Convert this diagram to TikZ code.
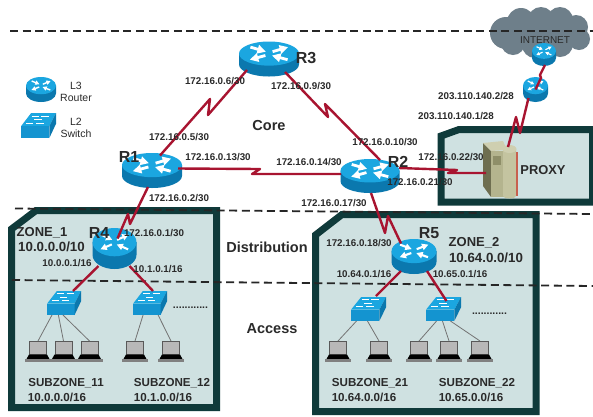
\documentclass[tikz,border=0pt]{standalone}
\usepackage{fontspec}
\setmainfont{Liberation Sans}
\usetikzlibrary{arrows.meta,calc}
\definecolor{ink}{HTML}{2A2A2A}
\definecolor{zonefill}{HTML}{CFE1E1}
\definecolor{zoneedge}{HTML}{0F3A3A}
\definecolor{link}{HTML}{A81430}
\definecolor{rtop}{HTML}{1BA6E0}
\definecolor{rbody}{HTML}{0B78AE}
\definecolor{sfront}{HTML}{1494D0}
\definecolor{cloudc}{HTML}{6E7F8A}
\definecolor{srvdark}{HTML}{6E6E50}
\definecolor{srvface}{HTML}{B4B48E}
\definecolor{srvwin}{HTML}{8E8E68}
\definecolor{srvtop}{HTML}{CFCFB0}
\definecolor{srvside}{HTML}{C4C4A0}
\definecolor{srvred}{HTML}{C8604E}
\tikzset{
  zone/.style={draw=zoneedge,fill=zonefill,line width=7pt,miter limit=10},
  layer/.style={dashed,dash pattern=on 8pt off 4.6pt,line width=1.8pt,black!85},
  serial/.style={draw=link,line width=2.4pt,line join=round},
  drop/.style={draw=black!55,line width=.8pt},
  lab/.style={font=\fontsize{#1}{#1}\selectfont\bfseries,text=ink,inner sep=0pt,text height=0.72*#1 pt,text depth=0pt},
  plain/.style={font=\fontsize{#1}{#1}\selectfont,text=ink,inner sep=0pt,text height=0.72*#1 pt,text depth=0pt},
  device/.style={inner sep=0pt,outer sep=0pt,shape=rectangle}
}
% name, x, y, half width, half height
\newcommand\routericon[5]{%
  \node[device,minimum width=2*#4 pt,minimum height=2*#5 pt] (#1) at (#2,#3) {};
  \begin{scope}[shift={(#2,#3)},x=#4pt,y=-#5pt]
    \fill[rbody] (-1,-.31) -- (-1,.31) arc[start angle=180,end angle=0,x radius=1,y radius=.69] -- (1,-.31) -- cycle;
    \fill[rtop] (0,-.31) ellipse[x radius=1,y radius=.69];
    \pgfmathsetmacro{\lwid}{#4*.095}
    \begin{scope}[white,line width=\lwid pt]
      \draw[-{Triangle[length=0pt 3 0,width=0pt 3 0]}] (-.62,-.68) -- (-.1,-.42);
      \draw[-{Triangle[length=0pt 3 0,width=0pt 3 0]}] (.62,.04) -- (.1,-.2);
      \draw[-{Triangle[length=0pt 3 0,width=0pt 3 0]}] (.12,-.42) -- (.64,-.68);
      \draw[-{Triangle[length=0pt 3 0,width=0pt 3 0]}] (-.12,-.2) -- (-.64,.04);
    \end{scope}
  \end{scope}}
% name, x, y, width, height (centre)
\newcommand\switchicon[5]{%
  \node[device,minimum width=#4 pt,minimum height=#5 pt] (#1) at (#2,#3) {};
  \begin{scope}[shift={(#2-#4/2,#3-#5/2)},x=#4pt,y=-#5pt]
    \fill[rtop] (0,.53) -- (.29,0) -- (1,0) -- (.81,.53) -- cycle;
    \fill[sfront] (0,.53) rectangle (.81,1);
    \fill[rbody] (.81,.53) -- (1,0) -- (1,.43) -- (.81,1) -- cycle;
    \begin{scope}[white,line width=.8pt]
      \draw (.3,.12) -- (.5,.12); \draw (.58,.12) -- (.8,.12);
      \draw (.38,.26) -- (.6,.26);
      \draw (.14,.4) -- (.34,.4); \draw (.44,.4) -- (.66,.4);
    \end{scope}
  \end{scope}}
% name, x, y
\newcommand\laptopicon[3]{%
  \node[device,minimum width=26pt,minimum height=21pt] (#1) at (#2,#3) {};
  \begin{scope}[shift={(#2,#3)}]
    \fill[black!65] (-9,-10.5) rectangle (9,3);
    \fill[black!28] (-8,-9.5) rectangle (8,2);
    \fill[black] (-9,3) -- (9,3) -- (11.5,7.5) -- (-11.5,7.5) -- cycle;
    \fill[black!50] (-13,7.5) rectangle (13,10.5);
  \end{scope}}
\begin{document}
\begin{tikzpicture}[x=1pt,y=-1pt]
\clip (0,0) rectangle (593,416);
\fill[white] (0,0) rectangle (593,416);
% zones
\draw[zone] (11.5,229) -- (36,210.5) -- (216.5,210.5) -- (216.5,407.5) -- (11.5,407.5) -- cycle;
\draw[zone] (315.5,235) -- (342,214.5) -- (536,214.5) -- (536,411.5) -- (315.5,411.5) -- cycle;
\draw[zone] (441,136) -- (459,129.5) -- (592.5,129.5) -- (592.5,202) -- (441,202) -- cycle;
% cloud
\foreach \cx/\cy/\cr in {506/33/16,521/22/14,541/20/13,560/20/13,576/27/12,579/39/11,560/44/13,535/45/13,513/43/12}
  \fill[cloudc] (\cx,\cy) circle[radius=\cr];
\fill[cloudc] (505,22) rectangle (575,45);
% layer lines
\coordinate (la) at (10,31); \coordinate (lb) at (593,31);
\coordinate (lc) at (15,208.5); \coordinate (ld) at (593,214);
\coordinate (le) at (12,280); \coordinate (lf) at (593,286);
\draw[layer] (la) -- (lb);
\draw[layer] (lc) -- (ld);
\draw[layer] (le) -- (lf);
% proxy server
\node[device,minimum width=36pt,minimum height=57pt] (proxy) at (501,170) {};
\fill[srvdark] (483,143) -- (491,151) -- (491,197) -- (483,186) -- cycle;
\fill[srvface] (491,151) rectangle (504,197);
\fill[srvwin] (493,156) rectangle (501,165);
\fill[srvtop] (483,143) -- (503,141) -- (507,150) -- (491,151) -- cycle;
\fill[srvside] (503,149) -- (516,149) -- (516,196) arc[start angle=0,end angle=180,x radius=6.5,y radius=2.5] -- cycle;
\fill[srvtop] (509.5,149) ellipse[x radius=7,y radius=4];
\fill[srvred] (515.5,152) rectangle (517.5,196);
% devices
\routericon{rleg}{41}{89.5}{15}{12.5}
\switchicon{sleg}{38.5}{125.5}{35}{25}
\routericon{r3}{269}{59}{30}{17.5}
\routericon{r1}{152}{170.5}{30}{17.5}
\routericon{r2}{370}{176}{29.5}{17}
\routericon{r4}{114.5}{248.5}{22}{20.5}
\routericon{r5}{414}{256.5}{22.5}{17.5}
\routericon{rnet}{544}{54.5}{12}{11.5}
\routericon{rgw}{535.5}{89.5}{12.5}{12.5}
\switchicon{sw1}{64}{303}{34}{24}
\switchicon{sw2}{150}{303}{34}{24}
\switchicon{sw3}{368.5}{309}{35}{24}
\switchicon{sw4}{443.5}{309}{35}{24}
\laptopicon{l1}{38}{351.5}
\laptopicon{l2}{63.5}{351.5}
\laptopicon{l3}{89.5}{351.5}
\laptopicon{l4}{135}{351.5}
\laptopicon{l5}{171}{351.5}
\laptopicon{l6}{338}{351.5}
\laptopicon{l7}{379}{351.5}
\laptopicon{l8}{419}{351.5}
\laptopicon{l9}{449}{351.5}
\laptopicon{l10}{480}{351.5}
% zigzag corners
\coordinate (a1) at (208,115); \coordinate (a2) at (210,99);
\coordinate (b1) at (260,169); \coordinate (b2) at (252,174);
\coordinate (c1) at (328,117); \coordinate (c2) at (325,104);
\coordinate (d1) at (130,224); \coordinate (d2) at (128,214);
\coordinate (e1) at (385,233); \coordinate (e2) at (388,216);
\coordinate (f1) at (457,170); \coordinate (f2) at (448,173);
\coordinate (g1) at (520,133); \coordinate (g2) at (516,117);
\coordinate (h1) at (541,78); \coordinate (h2) at (540,75);
% serial links
\draw[serial] ([shift={(-22,11)}]r3.center) -- (a1) -- (a2) -- ([shift={(8,-15)}]r1.center);
\draw[serial] ([shift={(26,-2)}]r1.center) -- (b1) -- (b2) -- ([shift={(-29,-2)}]r2.center);
\draw[serial] ([shift={(16,13)}]r3.center) -- (c1) -- (c2) -- ([shift={(10,-16)}]r2.center);
\draw[serial] ([shift={(-4,16.5)}]r1.center) -- (d1) -- (d2) -- ([shift={(3,-10)}]r4.center);
\draw[serial] ([shift={(1,17)}]r2.center) -- (e1) -- (e2) -- ([shift={(-13,-13)}]r5.center);
\draw[serial] ([shift={(29,-8)}]r2.center) -- (f1) -- (f2) -- ([shift={(-15,3)}]proxy.center);
\draw[serial] ([shift={(7,-23)}]proxy.center) -- (g2) -- (g1) -- ([shift={(-7,8.5)}]rgw.center);
\draw[serial] ([shift={(0,0)}]rgw.center) -- (h1) -- (h2) -- ([shift={(1,10.5)}]rnet.center);
% zone links
\draw[link,line width=2.4pt] ([shift={(-16,17.5)}]r4.center) -- ([shift={(9,-12)}]sw1.center);
\draw[link,line width=2.4pt] ([shift={(15,17.5)}]r4.center) -- ([shift={(3,-12)}]sw2.center);
\draw[link,line width=2.4pt] ([shift={(-13,14.5)}]r5.center) -- ([shift={(7.5,-13)}]sw3.center);
\draw[link,line width=2.4pt] ([shift={(13,14.5)}]r5.center) -- ([shift={(3,-8)}]sw4.center);
% drops
\draw[drop] (sw1.225) -- (l1.north);
\draw[drop] (sw1.245) -- (l2.north);
\draw[drop] (sw1.265) -- (l3.north);
\draw[drop] (sw2.240) -- (l4.north);
\draw[drop] (sw2.304) -- (l5.north);
\draw[drop] (sw3.225) -- (l6.north);
\draw[drop] (sw3.265) -- (l7.north);
\draw[drop] (sw4.240) -- (l8.north);
\draw[drop] (sw4.265) -- (l9.north);
\draw[drop] (sw4.300) -- (l10.north);
% labels
\node[plain=10.5] (t1) at (76,86) {L3};
\node[plain=10.5] (t2) at (76,98) {Router};
\node[plain=10.5] (t3) at (76,122) {L2};
\node[plain=10.5] (t4) at (76,134) {Switch};
\node[lab=14.5] (t5) at (269,125) {Core};
\node[lab=14.5] (t6) at (267,247) {Distribution};
\node[lab=14.5] (t7) at (272,328) {Access};
\node[lab=16] (t8) at (129,157) {R1};
\node[lab=16] (t9) at (398,162) {R2};
\node[lab=16] (t10) at (306,58) {R3};
\node[lab=16] (t11) at (99,233) {R4};
\node[lab=16] (t12) at (429,233) {R5};
\node[lab=9.8] (t13) at (215,81) {172.16.0.6/30};
\node[lab=9.8] (t14) at (301,86) {172.16.0.9/30};
\node[lab=9.8] (t15) at (179,137) {172.16.0.5/30};
\node[lab=9.8] (t16) at (218,157) {172.16.0.13/30};
\node[lab=9.8] (t17) at (309,162) {172.16.0.14/30};
\node[lab=9.8] (t18) at (179,198) {172.16.0.2/30};
\node[lab=9.8] (t19) at (385,141.5) {172.16.0.10/30};
\node[lab=9.8] (t20) at (451,157) {172.16.0.22/30};
\node[lab=9.8] (t21) at (420,182) {172.16.0.21/30};
\node[lab=9.8] (t22) at (334,203) {172.16.0.17/30};
\node[lab=9.8] (t23) at (476,96) {203.110.140.2/28};
\node[lab=9.8] (t24) at (456,116) {203.110.140.1/28};
\node[plain=10] (t25) at (545,40) {INTERNET};
\node[lab=12.9] (t26) at (543,170) {PROXY};
\node[lab=9.8] (t27) at (154,233) {172.16.0.1/30};
\node[lab=13] (t28) at (42,232) {ZONE\_1};
\node[lab=13.3] (t29) at (51.5,247) {10.0.0.0/10};
\node[lab=9.8] (t30) at (67,263) {10.0.0.1/16};
\node[lab=9.8] (t31) at (158,269) {10.1.0.1/16};
\node[lab=10.5,anchor=base] (t32) at (190.5,308) {............};
\node[lab=11.6] (t33) at (66,382) {SUBZONE\_11};
\node[lab=11.6] (t34) at (57,397) {10.0.0.0/16};
\node[lab=11.6] (t35) at (172,382) {SUBZONE\_12};
\node[lab=11.6] (t36) at (163,397) {10.1.0.0/16};
\node[lab=9.8] (t37) at (359,243) {172.16.0.18/30};
\node[lab=13] (t38) at (474,242) {ZONE\_2};
\node[lab=13.3] (t39) at (486,258) {10.64.0.0/10};
\node[lab=9.8] (t40) at (364,274) {10.64.0.1/16};
\node[lab=9.8] (t41) at (460,274) {10.65.0.1/16};
\node[lab=10.5,anchor=base] (t42) at (489.5,314) {............};
\node[lab=11.6] (t43) at (370,382) {SUBZONE\_21};
\node[lab=11.6] (t44) at (364,397) {10.64.0.0/16};
\node[lab=11.6] (t45) at (477,382) {SUBZONE\_22};
\node[lab=11.6] (t46) at (471,397) {10.65.0.0/16};
\end{tikzpicture}
\end{document}
